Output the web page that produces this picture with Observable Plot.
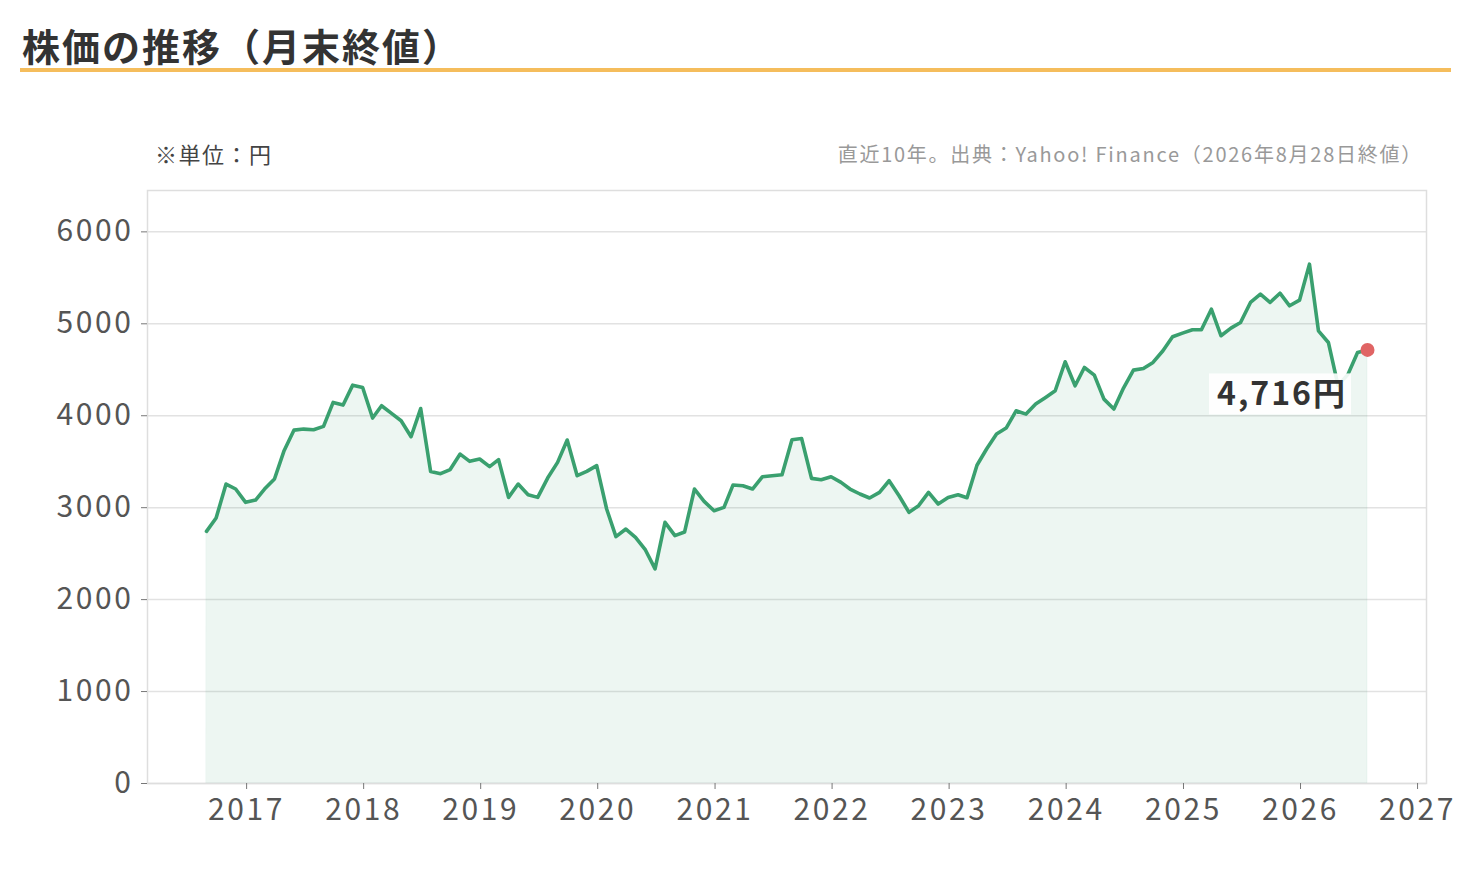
<!DOCTYPE html>
<html>
<head>
<meta charset="utf-8">
<script src="https://cdn.jsdelivr.net/npm/d3@7"></script>
<script src="https://cdn.jsdelivr.net/npm/@observablehq/plot@0.6"></script>
<style>
  body { margin: 0; background: #fff; font-family: "Noto Sans CJK JP", "Noto Sans", sans-serif; }
  #wrap { position: relative; width: 1470px; height: 870px; overflow: hidden; }
  #title { position: absolute; left: 22px; top: 20px; font-size: 38px; letter-spacing: 2px; font-weight: bold; color: #333; line-height: 50px; white-space: nowrap; }
  #rule { position: absolute; left: 20px; top: 68px; width: 1431px; height: 4px; background: #f5bd5c; }
  #unit { position: absolute; left: 155px; top: 138px; font-size: 22px; letter-spacing: 1.5px; color: #444; line-height: 30px; white-space: nowrap; }
  #source { position: absolute; right: 47px; top: 140px; font-size: 20px; letter-spacing: 1.75px; color: #999; line-height: 28px; white-space: nowrap; }
  #chart { position: absolute; left: 0; top: 170px; }
</style>
</head>
<body>
<div id="wrap">
  <div id="title">株価の推移（月末終値）</div>
  <div id="rule"></div>
  <div id="unit">※単位：円</div>
  <div id="source">直近10年。出典：Yahoo! Finance（2026年8月28日終値）</div>
  <div id="chart"></div>
</div>
<script>
// First month of the series (monthly closes, 120 months)
const startMonth = "2016-09";

// Monthly closing prices (円), 2016-09 … 2026-08
const closes = [
  2742, 2888, 3257, 3203,                                             // 2016 Sep-Dec
  3058, 3083, 3203, 3312, 3620, 3844, 3855, 3848, 3884, 4145, 4116, 4333, // 2017
  4308, 3975, 4109, 4025, 3946, 3772, 4078, 3393, 3370, 3415, 3583, 3504, // 2018
  3529, 3446, 3522, 3112, 3257, 3141, 3112, 3322, 3493, 3736, 3348, 3395, // 2019
  3457, 2986, 2685, 2768, 2678, 2540, 2334, 2841, 2696, 2735, 3203, 3069, // 2020
  2967, 3003, 3246, 3239, 3203, 3337, 3348, 3359, 3739, 3753, 3319, 3304, // 2021
  3337, 3275, 3203, 3149, 3105, 3166, 3293, 3130, 2949, 3022, 3166, 3040, // 2022
  3112, 3141, 3108, 3462, 3638, 3801, 3866, 4054, 4018, 4127, 4199, 4272, // 2023
  4587, 4326, 4525, 4442, 4181, 4073, 4301, 4496, 4514, 4580, 4707, 4859, // 2024
  4899, 4935, 4935, 5159, 4870, 4953, 5014, 5232, 5322, 5232, 5333, 5196, // 2025
  5257, 5649, 4924, 4797, 4330, 4450, 4688, 4716                          // 2026 Jan-Aug
];

// Axis ticks
const xTickYears = [2017, 2018, 2019, 2020, 2021, 2022, 2023, 2024, 2025, 2026, 2027];
const yTicks = [0, 1000, 2000, 3000, 4000, 5000, 6000];

// Domains
const xDomain = ["2016-03-01", "2027-02-01"];
const yDomain = [0, 6450];

const start = d3.utcParse("%Y-%m")(startMonth);
const data = closes.map((v, i) => ({ date: d3.utcMonth.offset(start, i), close: v }));
const last = data[data.length - 1];

const font = '"Noto Sans CJK JP", "Noto Sans", sans-serif';

function priceLabel(index, scales, values, dimensions, context) {
  const doc = (context && context.document) || document;
  const ns = "http://www.w3.org/2000/svg";
  const px = scales.x(last.date), py = scales.y(last.close);
  const g = doc.createElementNS(ns, "g");
  const rect = doc.createElementNS(ns, "rect");
  rect.setAttribute("x", px - 158);
  rect.setAttribute("y", py + 24);
  rect.setAttribute("width", 142);
  rect.setAttribute("height", 41);
  rect.setAttribute("fill", "#fff");
  rect.setAttribute("fill-opacity", "0.9");
  g.appendChild(rect);
  const t = doc.createElementNS(ns, "text");
  t.setAttribute("x", px - 20);
  t.setAttribute("y", py + 56);
  t.setAttribute("text-anchor", "end");
  t.setAttribute("font-size", "32");
  t.setAttribute("font-weight", "bold");
  t.setAttribute("font-family", font);
  t.setAttribute("letter-spacing", "2px");
  t.setAttribute("fill", "#333");
  t.textContent = d3.format(",")(last.close) + "円";
  g.appendChild(t);
  return g;
}

const chart = Plot.plot({
  width: 1470,
  height: 680,
  marginLeft: 147,
  marginRight: 44,
  marginTop: 20,
  marginBottom: 67,
  style: { fontFamily: font, fontSize: "30px", letterSpacing: "2.6px", color: "#555", background: "transparent" },
  x: { type: "utc", domain: xDomain.map(d => new Date(d)), label: null },
  y: { domain: yDomain, label: null },
  marks: [
    Plot.gridY(yTicks, { stroke: "#e2e2e2", strokeOpacity: 1, strokeWidth: 1.5 }),
    Plot.areaY(data, { x: "date", y: "close", fill: "#3aa06f", fillOpacity: 0.09, stroke: "#3aa06f", strokeOpacity: 0.06 }),
    Plot.lineY(data, { x: "date", y: "close", stroke: "#3aa06f", strokeWidth: 3.6, strokeLinejoin: "round" }),
    Plot.frame({ stroke: "#dedede", strokeWidth: 1.5 }),
    Plot.axisX(xTickYears.map(y => new Date(Date.UTC(y, 0, 1))), {
      tickFormat: d3.utcFormat("%Y"), tickSize: 6, tickPadding: 9, stroke: "#777", fill: "#555", fontSize: 30, dx: 1
    }),
    Plot.axisY(yTicks, {
      tickFormat: d => String(d), tickSize: 6, tickPadding: 8, stroke: "#777", fill: "#555", fontSize: 30
    }),
    priceLabel,
    Plot.dot([last], { x: "date", y: "close", r: 7, fill: "#e06464" })
  ]
});
document.getElementById("chart").appendChild(chart);
</script>
</body>
</html>
